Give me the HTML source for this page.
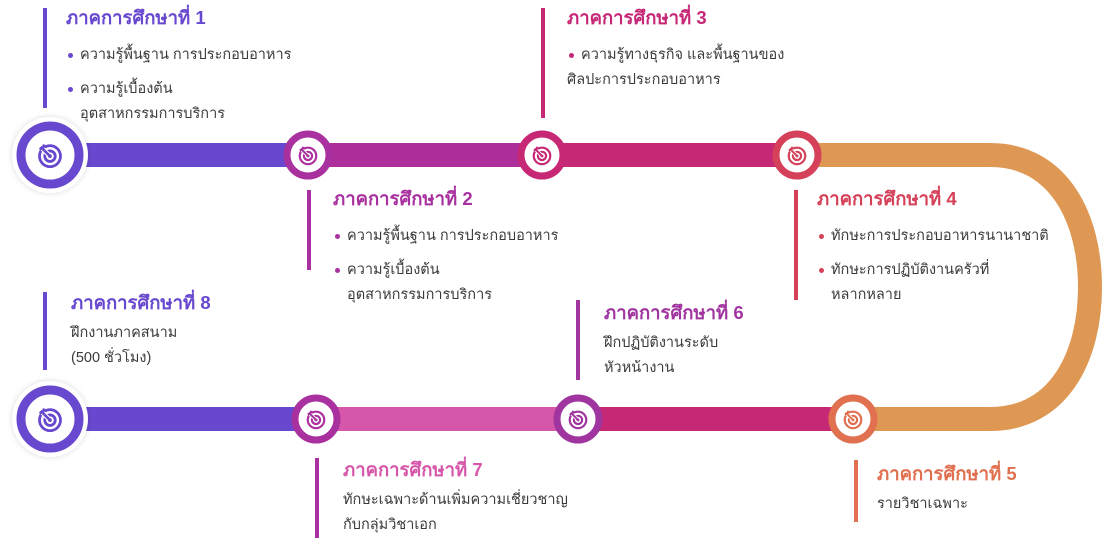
<!DOCTYPE html>
<html><head><meta charset="utf-8">
<style>
body{margin:0;width:1108px;height:541px;background:#fff;position:relative;overflow:hidden;font-family:"Liberation Sans","DejaVu Sans",sans-serif;}
.b{position:absolute;width:4px;}
.t{position:absolute;color:#3a3a3a;font-size:14.5px;line-height:25px;white-space:nowrap;}
.t h3{margin:0 0 6px 0;font-size:18.5px;font-weight:bold;line-height:24px;}
.t.bl h3{margin-bottom:13px;}
.li{position:relative;padding-left:14px;}
.li:before{content:"";position:absolute;left:2px;top:10px;width:5px;height:5px;border-radius:50%;background:currentColor;}
.sp{margin-top:9px;}
</style></head><body>
<svg width="1108" height="541" style="position:absolute;left:0;top:0">
<defs>
<filter id="sh" x="-30%" y="-30%" width="160%" height="160%"><feDropShadow dx="0" dy="0" stdDeviation="3" flood-color="#000" flood-opacity="0.15"/></filter>
<symbol id="ic" viewBox="0 0 24 24"><g fill="none" stroke="currentColor" stroke-width="2.4"><circle cx="12" cy="13" r="9"/><circle cx="12" cy="13" r="4.5"/></g><path d="M12 13 L4 5" stroke="#fff" stroke-width="4"/><path d="M12 13 L4 5 M3 7 L6 6 L7 3" stroke="currentColor" stroke-width="2.2" fill="none"/><circle cx="12" cy="13" r="1.6" fill="currentColor"/></symbol>
</defs>
<path d="M800 155 H990 C1060 155 1090 220 1090 287 C1090 355 1060 419 990 419 H850" stroke="#de9853" stroke-width="24" fill="none"/>
<rect x="50" y="143" width="260" height="24" fill="#6848cf"/>
<rect x="308" y="143" width="236" height="24" fill="#ae2f9c"/>
<rect x="542" y="143" width="258" height="24" fill="#c62876"/>
<rect x="50" y="407" width="268" height="24" fill="#6848cf"/>
<rect x="316" y="407" width="264" height="24" fill="#d657a9"/>
<rect x="578" y="407" width="276" height="24" fill="#c62876"/>
<g filter="url(#sh)">
<circle cx="50" cy="155" r="38" fill="#fff"/><circle cx="50" cy="419" r="38" fill="#fff"/>
</g>
<circle cx="50" cy="155" r="29" fill="#fff" stroke="#6848cf" stroke-width="9"/>
<circle cx="50" cy="419" r="29" fill="#fff" stroke="#6848cf" stroke-width="9"/>
<circle cx="308" cy="155" r="21" fill="#fff" stroke="#a8319f" stroke-width="7"/>
<circle cx="542" cy="155" r="21" fill="#fff" stroke="#c62876" stroke-width="7"/>
<circle cx="797" cy="155" r="21" fill="#fff" stroke="#d44158" stroke-width="7"/>
<circle cx="316" cy="419" r="21" fill="#fff" stroke="#a8319f" stroke-width="7"/>
<circle cx="578" cy="419" r="21" fill="#fff" stroke="#a035a0" stroke-width="7"/>
<circle cx="853" cy="419" r="21" fill="#fff" stroke="#e07050" stroke-width="7"/>
<use href="#ic" x="36" y="141" width="28" height="28" style="color:#6848cf"/>
<use href="#ic" x="36" y="405" width="28" height="28" style="color:#6848cf"/>
<use href="#ic" x="297" y="144" width="22" height="22" style="color:#a8319f"/>
<use href="#ic" x="531" y="144" width="22" height="22" style="color:#c62876"/>
<use href="#ic" x="786" y="144" width="22" height="22" style="color:#d44158"/>
<use href="#ic" x="305" y="408" width="22" height="22" style="color:#a8319f"/>
<use href="#ic" x="567" y="408" width="22" height="22" style="color:#a035a0"/>
<use href="#ic" x="842" y="408" width="22" height="22" style="color:#e07050"/>
</svg>

<div class="b" style="left:43px;top:8px;height:100px;background:#6848cf"></div>
<div class="t bl" style="left:66px;top:6px"><h3 style="color:#6848cf">ภาคการศึกษาที่ 1</h3><div class="li" style="color:#6848cf"><span style="color:#3a3a3a">ความรู้พื้นฐาน การประกอบอาหาร</span></div><div class="li sp" style="color:#6848cf"><span style="color:#3a3a3a">ความรู้เบื้องต้น<br>อุตสาหกรรมการบริการ</span></div></div>

<div class="b" style="left:307px;top:190px;height:80px;background:#a8319f"></div>
<div class="t bl" style="left:333px;top:187px"><h3 style="color:#a8319f">ภาคการศึกษาที่ 2</h3><div class="li" style="color:#a8319f"><span style="color:#3a3a3a">ความรู้พื้นฐาน การประกอบอาหาร</span></div><div class="li sp" style="color:#a8319f"><span style="color:#3a3a3a">ความรู้เบื้องต้น<br>อุตสาหกรรมการบริการ</span></div></div>

<div class="b" style="left:541px;top:8px;height:110px;background:#c62876"></div>
<div class="t bl" style="left:567px;top:6px"><h3 style="color:#c62876">ภาคการศึกษาที่ 3</h3><div class="li" style="color:#c62876"><span style="color:#3a3a3a">ความรู้ทางธุรกิจ และพื้นฐานของ</span></div><div style="color:#3a3a3a">ศิลปะการประกอบอาหาร</div></div>

<div class="b" style="left:794px;top:190px;height:110px;background:#d44158"></div>
<div class="t bl" style="left:817px;top:187px"><h3 style="color:#d44158">ภาคการศึกษาที่ 4</h3><div class="li" style="color:#d44158"><span style="color:#3a3a3a">ทักษะการประกอบอาหารนานาชาติ</span></div><div class="li sp" style="color:#d44158"><span style="color:#3a3a3a">ทักษะการปฏิบัติงานครัวที่<br>หลากหลาย</span></div></div>

<div class="b" style="left:43px;top:292px;height:78px;background:#6848cf"></div>
<div class="t" style="left:71px;top:291px"><h3 style="color:#6848cf">ภาคการศึกษาที่ 8</h3><div>ฝึกงานภาคสนาม<br>(500 ชั่วโมง)</div></div>

<div class="b" style="left:576px;top:300px;height:80px;background:#a035a0"></div>
<div class="t" style="left:604px;top:301px"><h3 style="color:#a035a0">ภาคการศึกษาที่ 6</h3><div>ฝึกปฏิบัติงานระดับ<br>หัวหน้างาน</div></div>

<div class="b" style="left:315px;top:458px;height:80px;background:#a8319f"></div>
<div class="t" style="left:343px;top:458px"><h3 style="color:#d657a9">ภาคการศึกษาที่ 7</h3><div>ทักษะเฉพาะด้านเพิ่มความเชี่ยวชาญ<br>กับกลุ่มวิชาเอก</div></div>

<div class="b" style="left:854px;top:460px;height:62px;background:#e07050"></div>
<div class="t" style="left:877px;top:462px"><h3 style="color:#e07050">ภาคการศึกษาที่ 5</h3><div>รายวิชาเฉพาะ</div></div>
</body></html>
